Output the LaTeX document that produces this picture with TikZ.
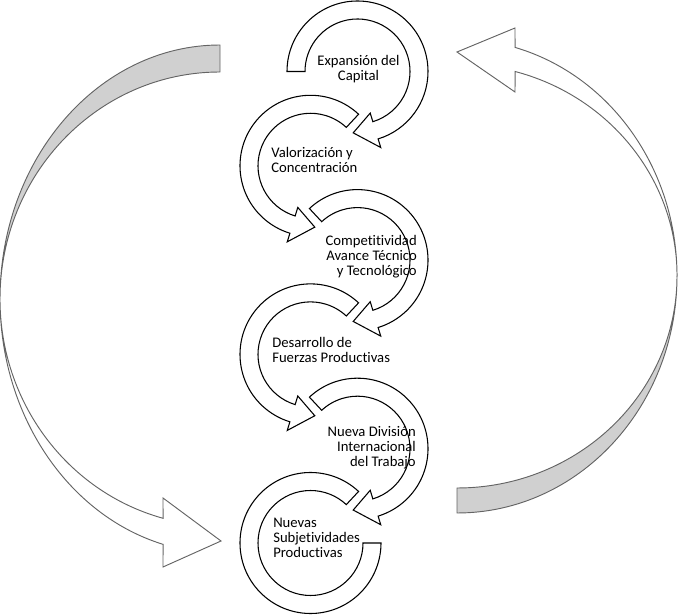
\documentclass[tikz,border=0pt]{standalone}
\usepackage{fontspec}
\setmainfont{Carlito}[Ligatures=NoCommon]
\definecolor{edgegray}{RGB}{100,100,100}
\definecolor{backgray}{RGB}{208,208,208}
% ring arrow turning clockwise: centre x, centre y, start angle
\newcommand{\ringcw}[3]{%
 \draw[ring] ([shift={(#1,#2)}]#3:70.5) arc[start angle=#3,end angle=-73,radius=70.5]
  -- ([shift={(#1,#2)}]-73:79.5) -- ([shift={(#1,#2)}]-94:61.5)
  -- ([shift={(#1,#2)}]-73:43.5) -- ([shift={(#1,#2)}]-73:52.5)
  arc[start angle=-73,end angle=#3,radius=52.5] -- cycle;}
% ring arrow turning counter-clockwise: centre x, centre y
\newcommand{\ringccw}[2]{%
 \draw[ring] ([shift={(#1,#2)}]47:70.5) arc[start angle=47,end angle=253,radius=70.5]
  -- ([shift={(#1,#2)}]253:79.5) -- ([shift={(#1,#2)}]274:61.5)
  -- ([shift={(#1,#2)}]253:43.5) -- ([shift={(#1,#2)}]253:52.5)
  arc[start angle=253,end angle=47,radius=52.5] -- cycle;}
\begin{document}
\begin{tikzpicture}[x=0.75pt,y=0.75pt,
 ring/.style={draw=black,fill=white,line width=0.8pt,line join=miter},
 front/.style={draw=edgegray,fill=white,line width=0.7pt},
 back/.style={draw=edgegray,fill=backgray,line width=0.7pt},
 lbl/.style={inner sep=0pt,font=\fontsize{11}{11.25}\selectfont}]
\useasboundingbox (0,0) rectangle (678,614);
% left side arrow
\draw[back] (220,569) arc[start angle=90,end angle=180,x radius=220,y radius=254]
 arc[start angle=180,end angle=90,x radius=220,y radius=227] -- cycle; %parte gris
\draw[front] (0,315) arc[start angle=180,end angle=255,x radius=220,y radius=254]
 -- (163,47) -- (221,73) -- (163,116) -- (163.06,95.7)
 arc[start angle=255,end angle=180,x radius=220,y radius=227] -- cycle; %punta
% right side arrow
\draw[back] (457,101) arc[start angle=270,end angle=360,x radius=220,y radius=237]
 arc[start angle=0,end angle=-90,x radius=220,y radius=212] -- cycle; %parte gris
\draw[front] (677,338) arc[start angle=0,end angle=74.7,x radius=220,y radius=237]
 -- (515,586) -- (457,562) -- (515,522) -- (515.1,542.5)
 arc[start angle=74.7,end angle=0,x radius=220,y radius=212] -- cycle; %punta
% rings
\draw[ring] ([shift={(310.5,71)}]47:70.5) arc[start angle=47,end angle=360,radius=70.5]
 -- ([shift={(310.5,71)}]0:52.5) arc[start angle=360,end angle=47,radius=52.5] -- cycle;
\ringcw{357.5}{165.3}{133}
\ringccw{310.5}{259.6}
\ringcw{357.5}{353.9}{133}
\ringccw{310.5}{448.2}
\ringcw{357.5}{542.5}{180}
% labels
\node[lbl,align=center] (expansion) at (358.5,544.5) {Expansión del\\Capital};
\node[lbl,align=left,anchor=west] (valorizacion) at (271,454.5) {Valorización y\\Concentración};
\node[lbl,align=right,anchor=east] (competitividad) at (417,357) {Competitividad\\Avance Técnico\\y Tecnológico};
\node[lbl,align=left,anchor=west] (desarrollo) at (272,264.5) {Desarrollo de\\Fuerzas Productivas};
\node[lbl,align=right,anchor=east] (division) at (416,166) {Nueva División\\Internacional\\del Trabajo};
\node[lbl,align=left,anchor=west] (subjetividades) at (273,76) {Nuevas\\Subjetividades\\Productivas};
\end{tikzpicture}
\end{document}
